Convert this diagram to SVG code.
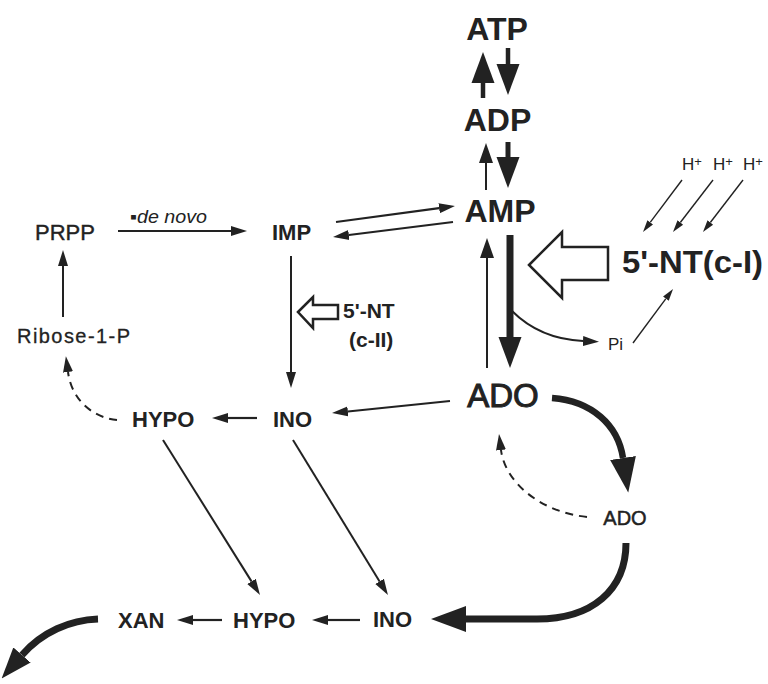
<svg xmlns="http://www.w3.org/2000/svg" width="768" height="684" viewBox="0 0 768 684">
<style>
text{font-family:"Liberation Sans",Arial,sans-serif;fill:#222}
.b{font-weight:bold}
.ln{fill:none;stroke:#222}
.dash{stroke-dasharray:8 6}
.hollow{fill:#fff;stroke:#222;stroke-width:2.5;stroke-linejoin:miter}
</style>
<defs>
<marker id="hs" markerUnits="userSpaceOnUse" viewBox="0 -6 16 12" markerWidth="16" markerHeight="12" refX="0" refY="0" orient="auto"><path d="M0,-5 L16,0 L0,5 Z" fill="#222"/></marker>
<marker id="hx" markerUnits="userSpaceOnUse" viewBox="0 -5 13 10" markerWidth="13" markerHeight="10" refX="0" refY="0" orient="auto"><path d="M0,-3.5 L12,0 L0,3.5 Z" fill="#222"/></marker>
<marker id="hm" markerUnits="userSpaceOnUse" viewBox="0 -8 21 16" markerWidth="21" markerHeight="16" refX="0" refY="0" orient="auto"><path d="M0,-7 L20,0 L0,7 Z" fill="#222"/></marker>
<marker id="hl" markerUnits="userSpaceOnUse" viewBox="0 -12 31 24" markerWidth="31" markerHeight="24" refX="0" refY="0" orient="auto"><path d="M0,-11.5 L31,0 L0,11.5 Z" fill="#222"/></marker>
<marker id="hc" markerUnits="userSpaceOnUse" viewBox="0 -14 36 28" markerWidth="36" markerHeight="28" refX="0" refY="0" orient="auto"><path d="M0,-13 L35,0 L0,13 Z" fill="#222"/></marker>
</defs>

<g id="connectors">
<line id="adp-atp" class="ln" x1="483" y1="98" x2="483" y2="83" stroke-width="4.5" marker-end="url(#hl)"/>
<line id="atp-adp" class="ln" x1="508" y1="48" x2="508" y2="64" stroke-width="4.5" marker-end="url(#hl)"/>
<line id="amp-adp" class="ln" x1="486" y1="190" x2="486" y2="163" stroke-width="2" marker-end="url(#hm)"/>
<line id="adp-amp" class="ln" x1="508" y1="142" x2="508" y2="157" stroke-width="5" marker-end="url(#hl)"/>
<line id="amp-ado" class="ln" x1="510" y1="235" x2="510" y2="337" stroke-width="7" marker-end="url(#hl)"/>
<line id="ado-amp" class="ln" x1="487" y1="368" x2="487" y2="258" stroke-width="2" marker-end="url(#hm)"/>
<line id="imp-amp" class="ln" x1="336" y1="222" x2="439.1" y2="208.2" stroke-width="2.2" marker-end="url(#hs)"/>
<line id="amp-imp" class="ln" x1="453" y1="222" x2="348.9" y2="235" stroke-width="2.2" marker-end="url(#hs)"/>
<line id="prpp-imp" class="ln" x1="118" y1="231" x2="231" y2="231" stroke-width="2" marker-end="url(#hs)"/>
<line id="imp-ino" class="ln" x1="291" y1="256" x2="291" y2="372" stroke-width="2" marker-end="url(#hs)"/>
<line id="ino-hypo" class="ln" x1="257" y1="418" x2="228" y2="418" stroke-width="2.2" marker-end="url(#hs)"/>
<line id="ado-ino" class="ln" x1="450" y1="401" x2="347.9" y2="411.4" stroke-width="2" marker-end="url(#hs)"/>
<line id="rib-prpp" class="ln" x1="63" y1="317" x2="63" y2="266" stroke-width="2" marker-end="url(#hs)"/>
<path id="hypo-rib" class="ln dash" d="M117,420 C95,418 72,402 68,372" stroke-width="2" marker-end="url(#hs)"/>
<line id="hypo-hypo" class="ln" x1="163" y1="440" x2="251.5" y2="581.4" stroke-width="2" marker-end="url(#hs)"/>
<line id="ino-ino" class="ln" x1="293" y1="440" x2="379.6" y2="581.4" stroke-width="2" marker-end="url(#hs)"/>
<line id="ino2-hypo2" class="ln" x1="360" y1="620" x2="328" y2="620" stroke-width="2.2" marker-end="url(#hs)"/>
<line id="hypo2-xan" class="ln" x1="222" y1="620" x2="193" y2="620" stroke-width="2.2" marker-end="url(#hs)"/>
<path id="xan-out" class="ln" d="M98,619 C70,620 42,632 22,655" stroke-width="7" marker-end="url(#hl)"/>
<path id="ado-ado2" class="ln" d="M552,398 C592,401 618,425 623,458" stroke-width="6.5" marker-end="url(#hc)"/>
<path id="ado2-ado" class="ln dash" d="M587,517 C540,512 505,482 501,450" stroke-width="2" marker-end="url(#hs)"/>
<path id="ado2-ino2" class="ln" d="M626,543 C626,590 592,619 537,619 L466,619" stroke-width="7" marker-end="url(#hc)"/>
<path id="amp-pi" class="ln" d="M512,311 Q540,339 583,341" stroke-width="2" marker-end="url(#hs)"/>
<line id="pi-nt" class="ln" x1="633" y1="343" x2="665.9" y2="298.6" stroke-width="1.4" marker-end="url(#hx)"/>
<line id="h1" class="ln" x1="682" y1="180" x2="650.2" y2="222.4" stroke-width="1.4" marker-end="url(#hx)"/>
<line id="h2" class="ln" x1="713" y1="180" x2="680.3" y2="222.5" stroke-width="1.4" marker-end="url(#hx)"/>
<line id="h3" class="ln" x1="743" y1="180" x2="710.3" y2="222.5" stroke-width="1.4" marker-end="url(#hx)"/>
</g>

<g id="nt-c1-arrow"><polygon class="hollow" points="529,265 562,232 562,247 608,247 608,280 562,280 562,298"/></g>
<g id="nt-c2-arrow"><polygon class="hollow" points="298,312 313,297 313,305 338,305 338,319 313,319 313,328" stroke-width="2"/></g>

<g id="atp"><text class="b" x="497" y="40" font-size="32" text-anchor="middle">ATP</text></g>
<g id="adp"><text class="b" x="497.5" y="131" font-size="32" text-anchor="middle">ADP</text></g>
<g id="amp"><text class="b" x="500" y="222" font-size="32" text-anchor="middle">AMP</text></g>
<g id="ado"><text x="503" y="407" font-size="33" text-anchor="middle" stroke="#222" stroke-width="1">ADO</text></g>
<g id="ado2"><text x="625" y="525" font-size="20" text-anchor="middle" stroke="#222" stroke-width="0.5">ADO</text></g>
<g id="nt-c1"><text class="b" x="622" y="273" font-size="32" textLength="141" lengthAdjust="spacingAndGlyphs">5'-NT(c-I)</text></g>
<g id="pi"><text x="608" y="350" font-size="17">Pi</text></g>
<g id="hplus">
<text x="682" y="170" font-size="17">H<tspan font-size="13" dy="-4">+</tspan></text>
<text x="713" y="170" font-size="17">H<tspan font-size="13" dy="-4">+</tspan></text>
<text x="743" y="170" font-size="17">H<tspan font-size="13" dy="-4">+</tspan></text>
</g>
<g id="prpp"><text x="35" y="240" font-size="22" stroke="#222" stroke-width="0.4">PRPP</text></g>
<g id="denovo"><text x="130" y="223" font-size="18" font-style="italic" textLength="77" lengthAdjust="spacingAndGlyphs">▪de novo</text></g>
<g id="imp"><text class="b" x="272" y="240" font-size="22">IMP</text></g>
<g id="nt-c2"><text class="b" x="343" y="318" font-size="21">5'-NT</text><text class="b" x="349" y="347" font-size="21">(c-II)</text></g>
<g id="ribose"><text x="17" y="343" font-size="20" textLength="113" stroke="#222" stroke-width="0.3">Ribose-1-P</text></g>
<g id="hypo1"><text class="b" x="132" y="427" font-size="22">HYPO</text></g>
<g id="ino1"><text class="b" x="273" y="427" font-size="22">INO</text></g>
<g id="xan"><text class="b" x="118" y="628" font-size="22">XAN</text></g>
<g id="hypo2"><text class="b" x="233" y="628" font-size="22">HYPO</text></g>
<g id="ino2"><text class="b" x="373" y="627" font-size="22">INO</text></g>
</svg>
